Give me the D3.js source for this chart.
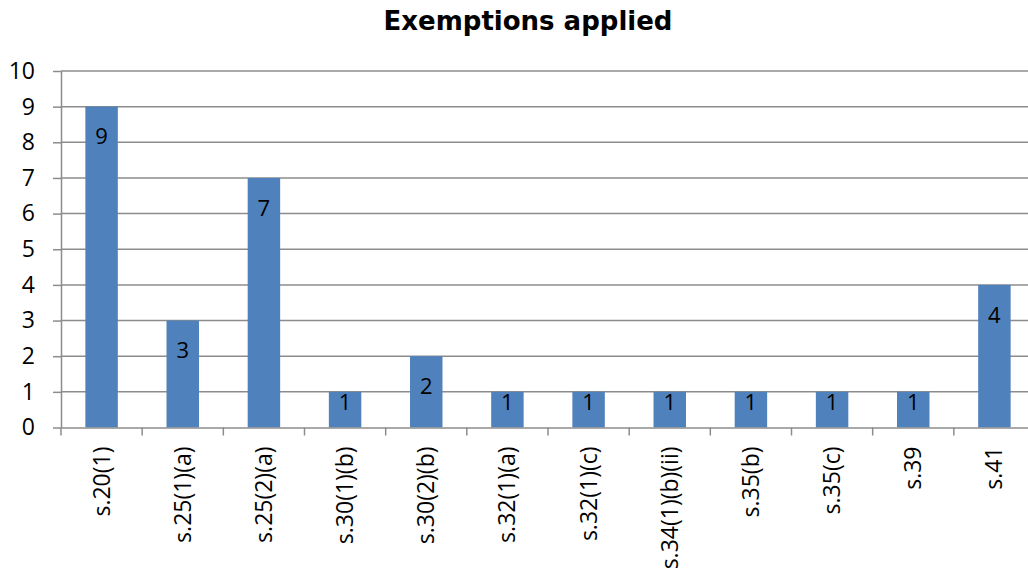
<!DOCTYPE html>
<html>
<head>
<meta charset="utf-8">
<script src="https://cdn.jsdelivr.net/npm/d3@7"></script>
<style>
  body { margin: 0; background: #fff; }
  svg { display: block; }
</style>
</head>
<body>
<svg></svg>
<script>
var categories = ["s.20(1)", "s.25(1)(a)", "s.25(2)(a)", "s.30(1)(b)", "s.30(2)(b)", "s.32(1)(a)",
                  "s.32(1)(c)", "s.34(1)(b)(ii)", "s.35(b)", "s.35(c)", "s.39", "s.41"];
var counts = [9, 3, 7, 1, 2, 1, 1, 1, 1, 1, 1, 4];
var yTicks = [0, 1, 2, 3, 4, 5, 6, 7, 8, 9, 10];

var svgWidth = 1028, svgHeight = 577;
var plotLeft = 61, plotRight = 1035, plotTop = 71, plotBottom = 427.5;
var labelFont = "'Open Sans', 'Liberation Sans', sans-serif";

var svg = d3.select("svg")
    .attr("width", svgWidth)
    .attr("height", svgHeight);

var x = d3.scaleBand().domain(categories).range([plotLeft, plotRight]);
var y = d3.scaleLinear().domain([0, 10]).range([plotBottom, plotTop]);

// gridlines
svg.selectAll(".grid")
    .data(yTicks.slice(1))
    .enter()
    .append("line")
    .attr("x1", plotLeft).attr("x2", plotRight)
    .attr("y1", function(d) { return y(d); })
    .attr("y2", function(d) { return y(d); })
    .attr("stroke", "#8c8c8c")
    .attr("stroke-width", 1.5);

// bars
var barW = x.bandwidth() * 0.4;
svg.selectAll(".bar")
    .data(counts)
    .enter()
    .append("rect")
    .attr("class", "bar")
    .attr("x", function(d, i) { return x(categories[i]) + (x.bandwidth() - barW) / 2; })
    .attr("y", function(d) { return y(d); })
    .attr("width", barW)
    .attr("height", function(d) { return plotBottom - y(d); })
    .attr("fill", "#4f81bd");

// value labels inside bar ends
svg.selectAll(".textlabel")
    .data(counts)
    .enter()
    .append("text")
    .attr("x", function(d, i) { return x(categories[i]) + x.bandwidth() / 2; })
    .attr("y", function(d) {
        var h = plotBottom - y(d);
        return y(d) + (h < 60 ? 10 : 30);
    })
    .attr("dy", "0.35em")
    .attr("text-anchor", "middle")
    .style("font-family", labelFont)
    .style("font-size", "22px")
    .attr("fill", "#000")
    .text(function(d) { return d; });

// y axis
var yAxis = svg.append("g")
    .attr("transform", "translate(" + plotLeft + ",0)")
    .call(d3.axisLeft(y).tickValues(yTicks).tickSize(8).tickPadding(18).tickSizeOuter(0));
yAxis.select(".domain").attr("stroke", "#8c8c8c").attr("stroke-width", 1.5);
yAxis.selectAll(".tick line").attr("stroke", "#8c8c8c").attr("stroke-width", 1.5);
yAxis.selectAll("text")
    .style("font-family", labelFont)
    .style("font-size", "23px")
    .attr("fill", "#000");

// x axis
var xAxis = svg.append("g")
    .attr("transform", "translate(0," + plotBottom + ")")
    .call(d3.axisBottom(x).tickSize(0).tickSizeOuter(0));
xAxis.select(".domain").attr("stroke", "#8c8c8c").attr("stroke-width", 1.5);
xAxis.selectAll(".tick text")
    .attr("transform", "rotate(-90)")
    .attr("x", -19)
    .attr("y", 0)
    .attr("dy", "0.35em")
    .attr("text-anchor", "end")
    .style("font-family", labelFont)
    .style("font-size", "23px")
    .attr("fill", "#000");

// tick marks at band boundaries
svg.selectAll(".xtick")
    .data(d3.range(categories.length + 1))
    .enter()
    .append("line")
    .attr("x1", function(i) { return plotLeft + i * x.step(); })
    .attr("x2", function(i) { return plotLeft + i * x.step(); })
    .attr("y1", plotBottom)
    .attr("y2", plotBottom + 8)
    .attr("stroke", "#8c8c8c")
    .attr("stroke-width", 1.5);

// title
svg.append("text")
    .attr("x", 528)
    .attr("y", 30)
    .attr("text-anchor", "middle")
    .style("font-family", "'DejaVu Sans', Verdana, sans-serif")
    .style("font-weight", "bold")
    .style("font-size", "26px")
    .attr("fill", "#000")
    .text("Exemptions applied");
</script>
</body>
</html>
